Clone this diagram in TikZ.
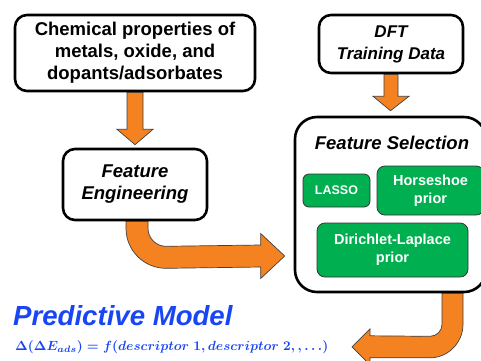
\documentclass[tikz,border=0pt]{standalone}
\usepackage[no-math]{fontspec}
\setmainfont{Liberation Sans}
\usepackage{graphicx}
\usetikzlibrary{calc}
\definecolor{arrorange}{RGB}{245,130,32}
\definecolor{boxgreen}{RGB}{0,176,80}
\definecolor{modelblue}{RGB}{25,70,245}
\pgfdeclarelayer{bg}
\pgfsetlayers{bg,main}
\begin{document}
\begin{tikzpicture}[x=1pt,y=-1pt,
  whitebox/.style={draw=black, line width=2.6pt, fill=white, rounded corners=12pt,
    align=center, inner sep=0pt, font=\fontsize{18.5}{22}\selectfont\bfseries},
  greenbox/.style={draw=black!80, line width=0.8pt, fill=boxgreen, rounded corners=6pt,
    align=center, inner sep=0pt, text=white, font=\fontsize{14.5}{18}\selectfont\bfseries},
  fatarrow/.style={fill=arrorange, draw=black!75, line width=0.7pt, line join=miter}]
\useasboundingbox (0,0) rectangle (481,360);
\clip (0,0) rectangle (481,360);

% boxes
\node[whitebox, minimum width=240pt, minimum height=76pt] (chem) at (135,53)
  {Chemical properties of\\metals, oxide, and\\dopants/adsorbates};
\node[whitebox, minimum width=144pt, minimum height=71pt, font=\fontsize{18.5}{22}\selectfont\bfseries\itshape] (fe) at (135,184.5)
  {Feature\\Engineering};
\node[whitebox, minimum width=144pt, minimum height=58pt, font=\fontsize{17}{22}\selectfont\bfseries\itshape] (dft) at (391,44)
  {DFT\\Training Data};
\node[whitebox, rounded corners=22pt, minimum width=191pt, minimum height=175pt] (fs) at (390.5,204.5) {};
\node[font=\fontsize{18.5}{22}\selectfont\bfseries\itshape] (fstitle) at (392,143) {Feature Selection};
\node[greenbox, minimum width=67pt, minimum height=33pt, font=\fontsize{12.5}{15}\selectfont\bfseries] (lasso) at (336.5,190.5) {LASSO};
\node[greenbox, rounded corners=8pt, minimum width=107pt, minimum height=49pt] (horse) at (430.5,190.5) {Horseshoe\\prior};
\node[greenbox, rounded corners=8pt, minimum width=151pt, minimum height=54pt] (dir) at (392.5,250) {Dirichlet-Laplace\\prior};

% predictive model
\node[anchor=base west, inner sep=0pt, text=modelblue, font=\fontsize{27.6}{30}\selectfont\bfseries\itshape] (pm) at (13,325) {Predictive Model};
\node[anchor=base west, inner sep=0pt, text=modelblue] (eq) at (15,350)
  {\resizebox{313pt}{!}{\boldmath$\Delta(\Delta E_{ads}) = f(descriptor\;1, descriptor\;2,, \ldots)$}};

% arrows
\coordinate (ctip) at ($(fs.west)+(-9,51.5)$);
\coordinate (dtip) at ($(fs.south)+(-38.5,53.5)$);
\begin{pgfonlayer}{bg}
\fill[white] (0,0) rectangle (481,360);
\draw[fatarrow] ($(chem.south)+(-8,0)$) -- ($(chem.south)+(-8,37)$) -- ($(chem.south)+(-18,37)$)
  -- ($(fe.north)+(0,-3)$) -- ($(chem.south)+(18,37)$) -- ($(chem.south)+(8,37)$) -- ($(chem.south)+(8,0)$) -- cycle;
\draw[fatarrow] ($(dft.south)+(-7,0)$) -- ($(dft.south)+(-7,22)$) -- ($(dft.south)+(-18,22)$)
  -- ($(fs.north)+(0,-5)$) -- ($(dft.south)+(18,22)$) -- ($(dft.south)+(7,22)$) -- ($(dft.south)+(7,0)$) -- cycle;
\draw[fatarrow] ($(fe.south)+(-9,0)$) -- ($(fe.south)+(-9,7)$)
  .. controls ($(fe.south)+(-9,29.1)$) and ($(fe.south)+(8.9,47)$) .. ($(fe.south)+(31,47)$)
  -- ($(ctip)+(-24,11)$) -- ($(ctip)+(-24,22.5)$) -- (ctip) -- ($(ctip)+(-24,-22.5)$) -- ($(ctip)+(-24,-11)$)
  -- ($(fe.south)+(31,25)$)
  .. controls ($(fe.south)+(21.06,25)$) and ($(fe.south)+(13,16.94)$) .. ($(fe.south)+(13,7)$)
  -- ($(fe.south)+(13,0)$) -- cycle;
\draw[fatarrow] ($(fs.south)+(51.5,0)$) -- ($(fs.south)+(51.5,31)$)
  .. controls ($(fs.south)+(51.5,37.62)$) and ($(fs.south)+(46.12,43)$) .. ($(fs.south)+(39.5,43)$)
  -- ($(dtip)+(18,-11)$) -- ($(dtip)+(18,-18)$) -- (dtip) -- ($(dtip)+(18,18)$) -- ($(dtip)+(18,11)$)
  -- ($(fs.south)+(39.5,64.5)$)
  .. controls ($(fs.south)+(57.7,64.5)$) and ($(fs.south)+(72.5,49.2)$) .. ($(fs.south)+(72.5,31)$)
  -- ($(fs.south)+(72.5,0)$) -- cycle;
\end{pgfonlayer}
\end{tikzpicture}
\end{document}
